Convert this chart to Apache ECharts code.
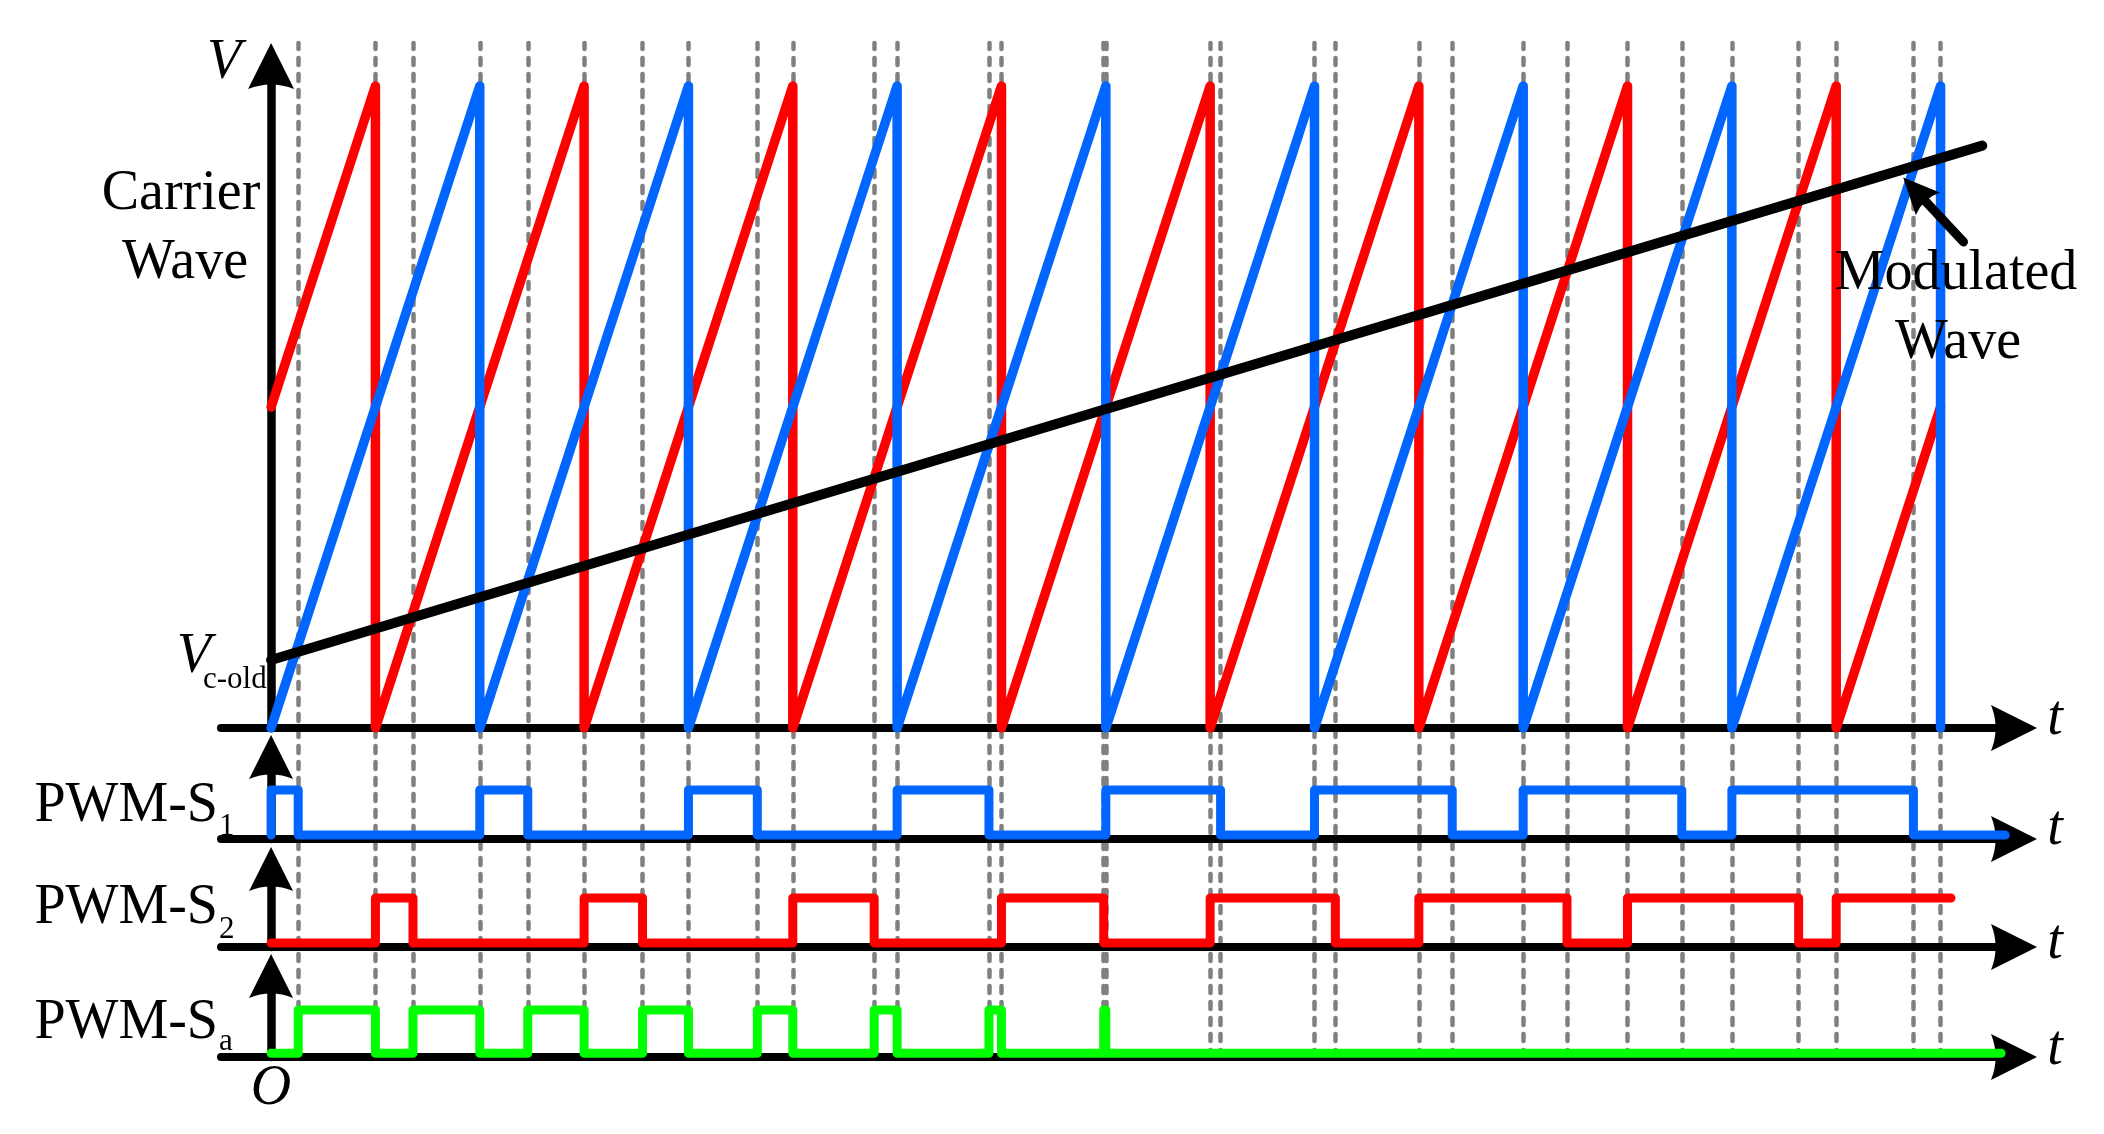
<!DOCTYPE html>
<html>
<head>
<meta charset="utf-8">
<script src="https://cdn.jsdelivr.net/npm/echarts@6/dist/echarts.min.js"></script>
<style>
  html, body { margin: 0; padding: 0; background: #fff; }
  #chart { width: 2104px; height: 1134px; }
</style>
</head>
<body>
<div id="chart"></div>
<script>
// time unit = one carrier period, t = 0 on the V axis
const blueCarrier = [[0, 0], [1, 1], [1, 0], [2, 1], [2, 0], [3, 1], [3, 0], [4, 1], [4, 0],
  [5, 1], [5, 0], [6, 1], [6, 0], [7, 1], [7, 0], [8, 1], [8, 0]]
const redCarrier = [[0, 0.5], [0.5, 1], [0.5, 0], [1.5, 1], [1.5, 0], [2.5, 1], [2.5, 0], [3.5, 1], [3.5, 0],
  [4.5, 1], [4.5, 0], [5.5, 1], [5.5, 0], [6.5, 1], [6.5, 0], [7.5, 1], [7.5, 0], [8, 0.5]]
const modulated = [[0, 0.106], [8.2, 0.907]]
const pointer = [[8.11, 0.757], [7.88, 0.837]]

// carrier resets and crossings of the modulated wave (dashed guides)
const resetTimes = [0.5, 1, 1.5, 2, 2.5, 3, 3.5, 4, 4.5, 5, 5.5, 6, 6.5, 7, 7.5, 8]
const blueCross = [0.13, 1.23, 2.33, 3.44, 4.55, 5.66, 6.76, 7.87]
const redCross = [0.68, 1.78, 2.89, 3.99, 5.10, 6.21, 7.32]

// PWM states [t, on/off], held until the next point
const pwmS1 = [[0, 0], [0, 1], [0.13, 0], [1, 1], [1.23, 0], [2, 1], [2.33, 0], [3, 1], [3.44, 0],
  [4, 1], [4.55, 0], [5, 1], [5.66, 0], [6, 1], [6.76, 0], [7, 1], [7.87, 0], [8.31, 0]]
const pwmS2 = [[0, 0], [0.5, 1], [0.68, 0], [1.5, 1], [1.78, 0], [2.5, 1], [2.89, 0], [3.5, 1], [3.99, 0],
  [4.5, 1], [5.10, 0], [5.5, 1], [6.21, 0], [6.5, 1], [7.32, 0], [7.5, 1], [8.05, 1]]
const pwmSa = [[0, 0], [0.13, 1], [0.5, 0], [0.68, 1], [1, 0], [1.23, 1], [1.5, 0], [1.78, 1], [2, 0],
  [2.33, 1], [2.5, 0], [2.89, 1], [3, 0], [3.44, 1], [3.5, 0], [3.99, 1], [4, 0], [8.29, 0]]

const BLUE = '#0066ff'
const RED = '#ff0000'
const GREEN = '#00ff00'
const GRAY = '#808080'
const ARROW = 'path://M50,0L100,100Q50,80,0,100Z'
const LOW = 0.08

const chart = echarts.init(document.getElementById('chart'))

const tMin = -0.24
const tMax = 8.352
const panels = [
  { top: 66, bottom: 406, yMax: 1.031, arrow: [46, 48] },
  { top: 757, bottom: 295, yMax: 1.673, arrow: [46, 44] },
  { top: 869, bottom: 187, yMax: 1.592, arrow: [46, 44] },
  { top: 976, bottom: 77, yMax: 1.723, arrow: [46, 44] }
]

const grid = panels.map(p => ({ left: 221, right: 90, top: p.top, bottom: p.bottom }))
grid.push({ left: 221, right: 90, top: 43, bottom: 77 })

const xAxis = panels.map((p, i) => ({
  type: 'value', gridIndex: i, min: tMin, max: tMax, z: 1,
  axisLine: { show: true, symbol: ['none', ARROW], symbolSize: [46, 46], lineStyle: { color: '#000', width: 8, cap: 'round' } },
  axisTick: { show: false }, axisLabel: { show: false }, splitLine: { show: false }
}))
xAxis.push({ type: 'value', gridIndex: 4, min: tMin, max: tMax, show: false })

const yAxis = panels.map((p, i) => ({
  type: 'value', gridIndex: i, min: 0, max: p.yMax, z: 1,
  axisLine: { show: true, symbol: ['none', ARROW], symbolSize: p.arrow, lineStyle: { color: '#000', width: 8.5 } },
  axisTick: { show: false }, axisLabel: { show: false }, splitLine: { show: false }
}))
yAxis.push({ type: 'value', gridIndex: 4, min: 0, max: 1, show: false })

function level (pts) {
  return pts.map(([t, s]) => [t, s ? 1 : LOW])
}

function pwmSeries (pts, idx, color) {
  return {
    type: 'line', xAxisIndex: idx, yAxisIndex: idx, step: 'end', data: level(pts), z: 2,
    showSymbol: false, symbol: 'none', silent: true,
    lineStyle: { color: color, width: 9, cap: 'round', join: 'round' }
  }
}

const dashTimes = resetTimes.concat(blueCross, redCross)

function txt (text, x, y, size, align, italic) {
  return {
    type: 'text', x: x, y: y, silent: true, z: 20,
    style: {
      text: text, fill: '#000', align: align, verticalAlign: 'middle',
      fontFamily: 'Liberation Serif', fontSize: size,
      fontStyle: italic ? 'italic' : 'normal', fontWeight: 'normal'
    }
  }
}

chart.setOption({
  backgroundColor: '#ffffff',
  animation: false,
  grid: grid,
  xAxis: xAxis,
  yAxis: yAxis,
  graphic: [
    txt('V', 224, 63, 56, 'center', true),
    txt('Carrier', 181, 194, 56, 'center'),
    txt('Wave', 185, 263, 56, 'center'),
    txt('V', 211, 657, 56, 'right', true),
    txt('c-old', 203, 680, 31, 'left'),
    txt('Modulated', 1956, 274, 56, 'center'),
    txt('Wave', 1958, 343, 56, 'center'),
    txt('PWM-S', 218, 806, 56, 'right'),
    txt('1', 219, 827, 31, 'left'),
    txt('PWM-S', 218, 908, 56, 'right'),
    txt('2', 219, 930, 31, 'left'),
    txt('PWM-S', 218, 1023, 56, 'right'),
    txt('a', 219, 1042, 31, 'left'),
    txt('O', 271, 1089, 56, 'center', true),
    txt('t', 2055, 719, 56, 'center', true),
    txt('t', 2055, 829, 56, 'center', true),
    txt('t', 2055, 943, 56, 'center', true),
    txt('t', 2055, 1049, 56, 'center', true)
  ],
  series: [
    {
      type: 'line', xAxisIndex: 0, yAxisIndex: 0, data: redCarrier, z: 2,
      showSymbol: false, symbol: 'none', silent: true,
      lineStyle: { color: RED, width: 9.5, cap: 'round', join: 'round' }
    },
    {
      type: 'line', xAxisIndex: 0, yAxisIndex: 0, data: blueCarrier, z: 2,
      showSymbol: false, symbol: 'none', silent: true,
      lineStyle: { color: BLUE, width: 9.5, cap: 'round', join: 'round' }
    },
    {
      type: 'line', xAxisIndex: 0, yAxisIndex: 0, data: modulated, z: 2,
      showSymbol: false, symbol: 'none', silent: true,
      lineStyle: { color: '#000', width: 10, cap: 'round' },
      markLine: {
        silent: true, animation: false,
        symbol: ['none', ARROW], symbolSize: [33, 36],
        label: { show: false },
        lineStyle: { color: '#000', width: 9, type: 'solid', cap: 'round' },
        data: [[{ coord: pointer[0] }, { coord: pointer[1] }]]
      }
    },
    pwmSeries(pwmS1, 1, BLUE),
    pwmSeries(pwmS2, 2, RED),
    pwmSeries(pwmSa, 3, GREEN),
    {
      type: 'line', xAxisIndex: 4, yAxisIndex: 4, data: [], z: 0,
      showSymbol: false, silent: true,
      markLine: {
        z: 0, silent: true, animation: false, symbol: ['none', 'none'],
        label: { show: false },
        emphasis: { disabled: true },
        lineStyle: { color: GRAY, width: 4.5, type: [7, 9], cap: 'round' },
        data: dashTimes.map(t => ({ xAxis: t }))
      }
    }
  ]
})
</script>
</body>
</html>
